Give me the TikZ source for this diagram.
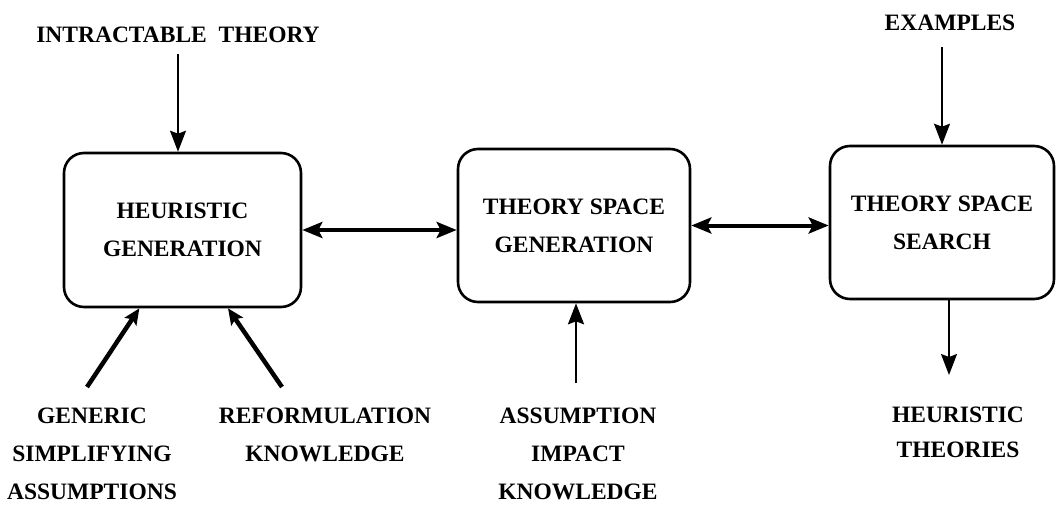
\documentclass[tikz,border=0pt]{standalone}
\usepackage{fontspec}
\setmainfont{Liberation Serif}
\usetikzlibrary{arrows.meta}
\usetikzlibrary{calc}

\tikzset{
  block/.style={draw,line width=2.6pt,rounded corners=20pt,align=center},
  lbl/.style={align=center,inner sep=0pt},
  feed/.style={line width=1.6pt,-{Stealth[length=21pt,width=16pt,inset=3pt]}},
  link/.style={line width=4pt,{Stealth[length=20pt,width=16pt,inset=4pt]}-{Stealth[length=20pt,width=16pt,inset=4pt]}},
  prop/.style={line width=4.5pt,-{Stealth[length=16pt,width=14pt,inset=3pt]}},
}

\begin{document}
\begin{tikzpicture}[x=1pt,y=-1pt,font=\fontsize{23.5}{38}\selectfont\bfseries]
\useasboundingbox (0,0) rectangle (1056,506);
\node[block,minimum width=237pt,minimum height=154pt] (heur) at (182.5,230) {HEURISTIC\\GENERATION};
\node[block,minimum width=232pt,minimum height=153pt] (tsgen) at (574,225.5) {THEORY SPACE\\GENERATION};
\node[block,minimum width=224pt,minimum height=153pt] (tssearch) at (942,222.5) {THEORY SPACE\\SEARCH};

\node[lbl] (intract) at (178,35) {INTRACTABLE\ \ THEORY};
\node[lbl] (examples) at (950,23) {EXAMPLES};
\node[lbl] (gsa) at (92,454) {GENERIC\\SIMPLIFYING\\ASSUMPTIONS};
\node[lbl] (reform) at (325,435) {REFORMULATION\\KNOWLEDGE};
\node[lbl] (aik) at (578,454) {ASSUMPTION\\IMPACT\\KNOWLEDGE};
\node[lbl,font=\fontsize{23.5}{35}\selectfont\bfseries] (heurth) at (958,432) {HEURISTIC\\THEORIES};

\draw[feed,shorten <=11pt] (intract.south) -- (intract.south |- heur.north);
\draw[feed,shorten <=16pt] (examples.south -| tssearch.north) -- (tssearch.north);
\draw[link] (heur.east) -- (heur.east -| tsgen.west);
\draw[link] (tsgen.east) -- (tsgen.east -| tssearch.west);

\coordinate (gsa tail) at (87,387);
\coordinate (reform tail) at (282,387);
\coordinate (aik tail) at (576,383);
\coordinate (heurth tip) at (949,375);
\draw[prop] (gsa tail) -- ($(heur.south west)!0.32!(heur.south east)$);
\draw[prop] (reform tail) -- ($(heur.south west)!0.69!(heur.south east)$);
\draw[feed,line width=2.4pt] (aik tail) -- (aik tail |- tsgen.south);
\draw[feed] (tssearch.south -| heurth tip) -- (heurth tip);
\end{tikzpicture}
\end{document}
